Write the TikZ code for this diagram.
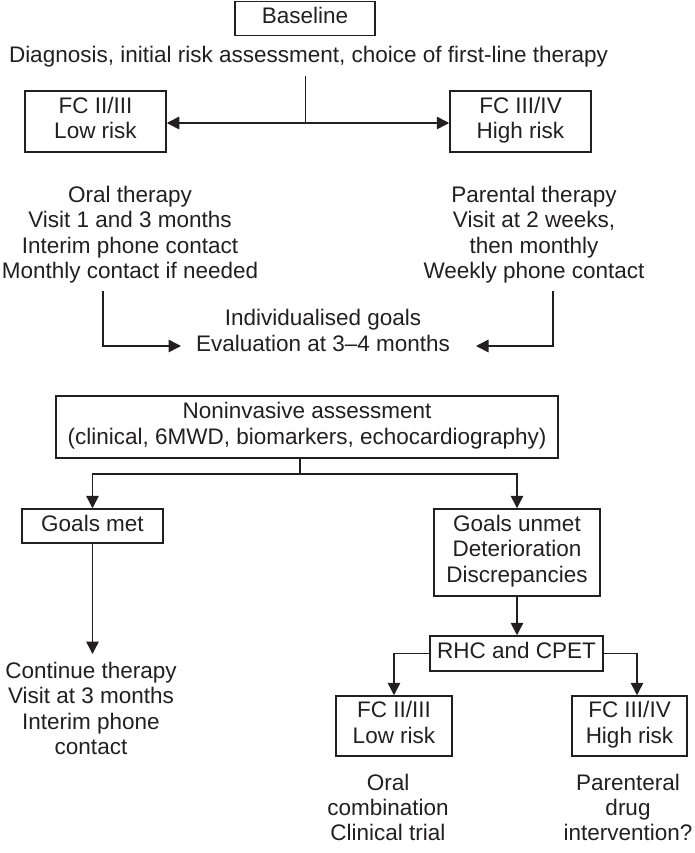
\documentclass[tikz,border=0pt]{standalone}
\usepackage{fontspec}
\setmainfont{Liberation Sans}
\usetikzlibrary{arrows.meta}
\definecolor{ink}{HTML}{231F20}
\begin{document}
\begin{tikzpicture}[x=1pt,y=-1pt,
  every node/.style={font=\fontsize{22.5}{25.3}\selectfont, text=ink, inner sep=0pt},
  txt/.style={align=center, execute at begin node=\strut, execute at end node=\strut},
  box/.style={draw=ink, line width=1.5pt, align=center, execute at begin node=\strut, execute at end node=\strut},
  line/.style={draw=ink, line width=1.5pt},
  arr/.style={line, -{Triangle[length=12.5pt,width=12.5pt]}}
]
\useasboundingbox (0,0) rectangle (695,853);

% top
\node[box, minimum width=140pt, minimum height=34pt] (base) at (305,18.5) {Baseline};
\node[txt] (diag) at (308.5,57) {Diagnosis, initial risk assessment, choice of first-line therapy};
\coordinate (j1top) at (305.6,76);
\coordinate (j1) at (305.6,123);
\node[box, minimum width=141pt, minimum height=61pt] (fc1) at (95.5,121.5) {FC II/III\\Low risk};
\node[box, minimum width=141pt, minimum height=61pt] (fc2) at (520.5,121.5) {FC III/IV\\High risk};
\draw[line] (j1top) -- (j1);
\draw[arr] (j1) -- (fc1.east |- j1);
\draw[arr] (j1) -- (fc2.west |- j1);

% therapies
\node[txt] (oral) at (130,236) {Oral therapy\\Visit 1 and 3 months\\Interim phone contact\\Monthly contact if needed};
\node[txt] (par) at (534,236) {Parental therapy\\Visit at 2 weeks,\\then monthly\\Weekly phone contact};
\node[txt] (goals) at (323,334) {Individualised goals\\Evaluation at 3--4 months};
\coordinate (o1) at (103,291);
\coordinate (gl) at (181,346);
\coordinate (p1) at (553,291);
\coordinate (gr) at (476,346);
\draw[arr] (o1) |- (gl);
\draw[arr] (p1) |- (gr);

% assessment
\node[box, minimum width=502pt, minimum height=62pt] (nia) at (307,427) {Noninvasive assessment\\(clinical, 6MWD, biomarkers, echocardiography)};
\coordinate (j2) at (300,474);
\draw[line] (nia.south -| j2) -- (j2);
\node[box, minimum width=141pt, minimum height=34pt] (met) at (92.5,526) {Goals met};
\node[box, minimum width=166pt, minimum height=87pt] (unmet) at (517,552.5) {Goals unmet\\Deterioration\\Discrepancies};
\draw[arr] (j2) -| (met.north);
\draw[arr] (j2) -| (unmet.north);

% left branch
\node[txt] (cont) at (91,712) {Continue therapy\\Visit at 3 months\\Interim phone\\contact};
\coordinate (c1) at (0,654);
\draw[arr] (met.south) -- (met.south |- c1);

% right branch
\node[box, minimum width=173pt, minimum height=35pt] (rhc) at (516.5,653.5) {RHC and CPET};
\draw[arr] (unmet.south) -- (unmet.south |- rhc.north);
\node[box, minimum width=116pt, minimum height=60pt] (fc3) at (394,726) {FC II/III\\Low risk};
\node[box, minimum width=115pt, minimum height=60pt] (fc4) at (629.5,726) {FC III/IV\\High risk};
\coordinate (r4) at (637,0);
\draw[arr] (rhc.west) -| (fc3.north);
\draw[arr] (rhc.east) -| (fc4.north -| r4);
\node[txt] (oral2) at (388,811) {Oral\\combination\\Clinical trial};
\node[txt] (par2) at (628,811) {Parenteral\\drug\\intervention?};
\end{tikzpicture}
\end{document}
